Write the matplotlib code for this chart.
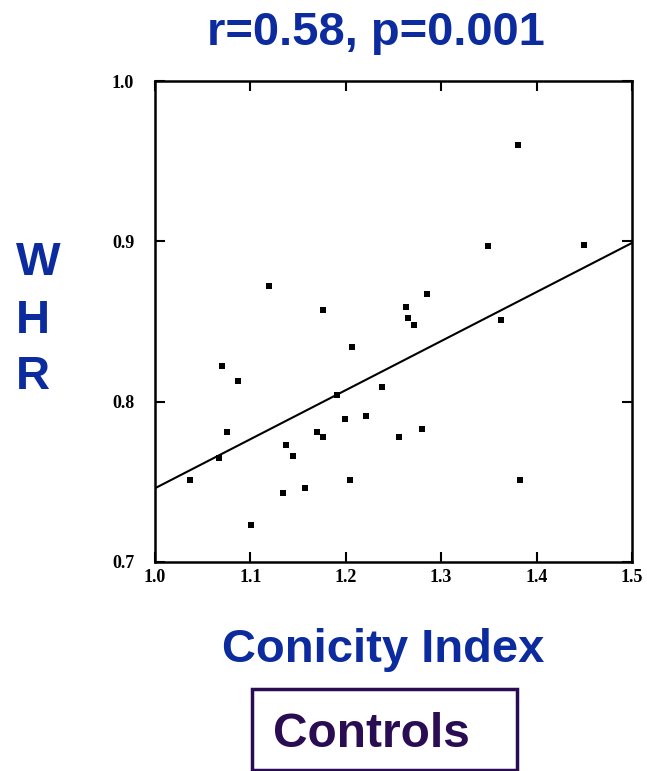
import matplotlib
matplotlib.use("Agg")
import matplotlib.pyplot as plt
from matplotlib.patches import Rectangle

# Data
conicity = [1.120, 1.176, 1.380, 1.349, 1.450, 1.285, 1.263, 1.265, 1.271, 1.363,
            1.207, 1.070, 1.087, 1.238, 1.191, 1.199, 1.221, 1.075, 1.170, 1.176,
            1.256, 1.137, 1.145, 1.067, 1.037, 1.204, 1.134, 1.157, 1.101, 1.280,
            1.383]
whr = [0.872, 0.857, 0.960, 0.897, 0.898, 0.867, 0.859, 0.852, 0.848, 0.851,
       0.834, 0.822, 0.813, 0.809, 0.804, 0.789, 0.791, 0.781, 0.781, 0.778,
       0.778, 0.773, 0.766, 0.765, 0.751, 0.751, 0.743, 0.746, 0.723, 0.783,
       0.751]
fit_x = [1.0, 1.5]
fit_y = [0.746, 0.899]
x_ticks = [1.0, 1.1, 1.2, 1.3, 1.4, 1.5]
y_ticks = [0.7, 0.8, 0.9, 1.0]
title = "r=0.58, p=0.001"
xlabel = "Conicity Index"
ylabel_letters = ["W", "H", "R"]
group = "Controls"

W, H = 647, 771
fig = plt.figure(figsize=(W / 100, H / 100), dpi=100)
blue = "#0b2b9e"
purple = "#2a0c52"

ax = fig.add_axes([155 / W, 1 - 562 / H, (632 - 155) / W, (562 - 81) / H])
ax.plot(conicity, whr, linestyle="none", marker="s", markersize=3.8,
        color="black", markeredgewidth=0)
ax.plot(fit_x, fit_y, color="black", linewidth=1.5)
ax.set_xlim(1.0, 1.5)
ax.set_ylim(0.7, 1.0)
ax.set_xticks(x_ticks)
ax.set_yticks(y_ticks)
ax.set_xticklabels([f"{v:.1f}" for v in x_ticks])
ax.set_yticklabels([f"{v:.1f}" for v in y_ticks])
for s in ax.spines.values():
    s.set_linewidth(1.8)
ax.tick_params(direction="in", length=7, width=1.5, top=True, right=True)
ax.tick_params(axis="x", pad=5)
ax.tick_params(axis="y", pad=15)
for lab in ax.get_xticklabels() + ax.get_yticklabels():
    lab.set_fontfamily("Liberation Serif")
    lab.set_fontweight("bold")
    lab.set_fontsize(13)

sans = "Liberation Sans"
fig.text(376 / W, 1 - 45 / H, title, ha="center", va="baseline",
         fontsize=33.9, fontweight="bold", color=blue, family=sans)
fig.text(383 / W, 1 - 662 / H, xlabel, ha="center", va="baseline",
         fontsize=33.9, fontweight="bold", color=blue, family=sans)
for letter, base in zip(ylabel_letters, [275, 333, 389]):
    fig.text(16 / W, 1 - base / H, letter, ha="left", va="baseline",
             fontsize=34, fontweight="bold", color=blue, family=sans)

rect = Rectangle((252 / W, 1 - 770 / H), (517 - 252) / W, (770 - 689) / H,
                 transform=fig.transFigure, fill=False, edgecolor=purple,
                 linewidth=2.5)
fig.patches.append(rect)
fig.text(371 / W, 1 - 747 / H, group, ha="center", va="baseline",
         fontsize=34.5, fontweight="bold", color=purple, family=sans)

fig.savefig("out.png", dpi=100)
